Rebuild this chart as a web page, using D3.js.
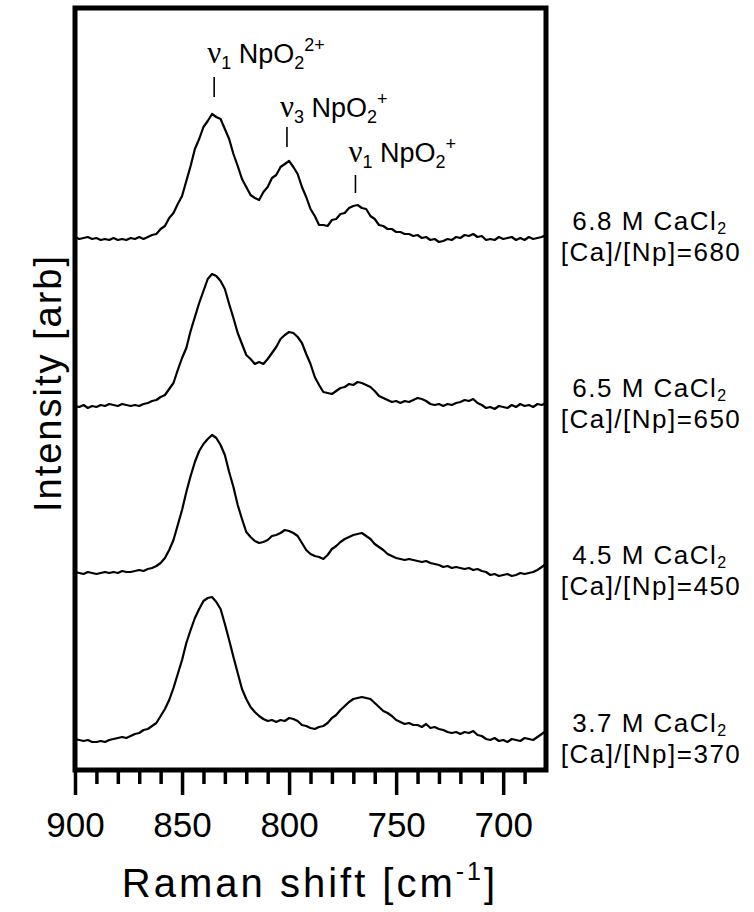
<!DOCTYPE html>
<html><head><meta charset="utf-8">
<script src="https://cdn.jsdelivr.net/npm/d3@7/dist/d3.min.js"></script>
<style>
body{margin:0;background:#fff;}
svg{display:block;font-family:"Liberation Sans",Arial,sans-serif;}
</style></head>
<body><svg id="chart" width="754" height="912"></svg>
<script>
// Raman shift grid (cm-1)
const shift = [
 900,898,896,894,892,890,888,886,884,882,
 880,878,876,874,872,870,868,866,864,862,
 860,858,856,854,852,850,848,846,844,842,
 840,838,836,834,832,830,828,826,824,822,
 820,818,816,814,812,810,808,806,804,802,
 800,798,796,794,792,790,788,786,784,782,
 780,778,776,774,772,770,768,766,764,762,
 760,758,756,754,752,750,748,746,744,742,
 740,738,736,734,732,730,728,726,724,722,
 720,718,716,714,712,710,708,706,704,702,
 700,698,696,694,692,690,688,686,684,682,
 680];

// Intensities (arb), baseline-subtracted
const s68 = [
 1,-1,0,1,-1,0,-2,-1,-2,0,
 -2,-1,-2,0,-1,1,-1,1,3,4,
 9,12,20,25,34,42,57,72,89,99,
 111,117,124,121,119,109,99,84,72,59,
 51,43,40,38,46,51,60,63,71,74,
 77,71,64,51,41,29,22,13,13,12,
 18,19,24,25,30,32,33,30,29,22,
 19,13,12,9,9,6,6,4,4,2,
 3,0,1,-2,-1,-4,-3,-1,-2,1,
 0,3,2,4,1,2,-2,-1,-2,1,
 -1,0,1,-2,0,-2,1,-1,0,1,
 3];
const s65 = [
 -1,-2,0,-3,-1,-2,0,-1,1,0,
 -1,1,0,-1,0,-1,1,2,4,5,
 8,10,16,22,35,47,57,74,88,102,
 114,126,131,129,124,116,101,87,72,61,
 50,46,41,43,41,46,52,58,66,70,
 73,72,68,62,51,41,28,20,13,12,
 11,14,17,18,21,20,23,22,20,18,
 14,9,7,5,3,4,2,4,3,5,
 7,6,4,1,0,1,-1,1,0,2,
 3,5,4,6,2,0,-3,-2,-4,-1,
 -2,-3,0,-2,1,-1,0,-2,1,0,
 2];
const s45 = [
 0,-1,-2,0,-1,-2,-1,0,-1,0,
 -1,1,0,0,1,2,1,3,4,6,
 9,14,22,32,47,62,80,96,110,121,
 128,133,137,134,127,117,100,85,67,53,
 40,35,31,29,30,32,36,37,39,42,
 41,39,36,29,22,18,16,15,13,17,
 23,26,30,33,35,37,38,39,36,33,
 28,25,22,18,16,14,13,12,13,12,
 11,10,11,9,8,7,5,6,4,5,
 4,3,4,2,3,1,0,-3,-2,-4,
 -3,-2,-4,-3,-1,-2,-1,0,2,5,
 8];
const s37 = [
 1,0,-1,0,-2,-2,-1,-2,0,1,
 2,3,2,4,6,7,10,11,14,17,
 24,31,40,52,66,80,97,110,122,131,
 139,142,143,138,131,116,100,83,67,51,
 41,33,28,24,21,19,20,18,20,19,
 22,21,19,15,14,12,11,13,14,17,
 22,25,30,34,38,41,42,43,42,41,
 37,33,29,27,24,20,18,16,17,15,
 15,13,16,12,13,11,10,8,7,8,
 6,8,7,9,5,4,1,0,2,-1,
 0,-2,1,0,-1,2,1,0,3,6,
 9];

const seriesData = [s68, s65, s45, s37];
const concentrations = ["6.8", "6.5", "4.5", "3.7"];
const ratios = ["680", "650", "450", "370"];
const offsets = [532, 365, 198, 30];

const xTicks = [900, 850, 800, 750, 700];
const minorTicks = [890,880,870,860,840,830,820,810,790,780,770,760,740,730,720,710,690];

const peakShifts = [835, 801, 769];
const peakMode = ["1", "3", "1"];
const peakCharge = ["2+", "+", "+"];

// ---------- drawing ----------
const svg = d3.select("#chart");
const L = 75, R = 546, T = 8, B = 770;
const x = d3.scaleLinear().domain([900, 680]).range([L, R]);
const y = d3.scaleLinear().domain([0, 762]).range([B, T]);

svg.append("defs").append("clipPath").attr("id", "clip")
  .append("rect").attr("x", L).attr("y", T).attr("width", R - L).attr("height", B - T);

const g = svg.append("g").attr("clip-path", "url(#clip)");
seriesData.forEach((s, k) => {
  const line = d3.line()
    .x((d, i) => x(shift[i]))
    .y(d => y(d + offsets[k]));
  g.append("path").datum(s)
    .attr("d", line)
    .attr("fill", "none")
    .attr("stroke", "#000")
    .attr("stroke-width", 2.2)
    .attr("stroke-linejoin", "round");
});

// minor ticks
const minorAxis = d3.axisBottom(x).tickValues(minorTicks).tickSize(14).tickFormat("");
const gm = svg.append("g").attr("transform", `translate(0,${B})`).call(minorAxis);
gm.select(".domain").remove();
gm.selectAll("line").attr("stroke-width", 3.5);

// major ticks
const majorAxis = d3.axisBottom(x).tickValues(xTicks).tickSize(25).tickPadding(17).tickFormat(d3.format("d"));
const gM = svg.append("g").attr("transform", `translate(0,${B})`).call(majorAxis);
gM.select(".domain").remove();
gM.selectAll("line").attr("stroke-width", 3.5);
gM.selectAll("text").attr("font-size", 35).attr("font-family", "'Liberation Sans', Arial, sans-serif").attr("fill", "#000");

// frame
svg.append("rect").attr("x", L).attr("y", T).attr("width", R - L).attr("height", B - T)
  .attr("fill", "none").attr("stroke", "#000").attr("stroke-width", 5);

// x title
const xt = svg.append("text").attr("x", 310).attr("y", 897).attr("text-anchor", "middle")
  .attr("font-size", 40).attr("letter-spacing", 3);
xt.append("tspan").text("Raman shift [cm");
xt.append("tspan").attr("font-size", 25).attr("dy", -17).text("-1");
xt.append("tspan").attr("dy", 17).text("]");

// y title
svg.append("text").attr("transform", "translate(61,383) rotate(-90)")
  .attr("text-anchor", "middle").attr("font-size", 38).attr("letter-spacing", 2)
  .text("Intensity [arb]");

// peak annotations
const annBase = [63, 117, 162];
const annTickTop = [77, 127, 175];
const annTickBot = [97, 147, 193];
peakShifts.forEach((p, i) => {
  const px = x(p);
  svg.append("line").attr("x1", px).attr("x2", px)
    .attr("y1", annTickTop[i]).attr("y2", annTickBot[i])
    .attr("stroke", "#000").attr("stroke-width", 1.6);
  const t = svg.append("text").attr("x", px - 7).attr("y", annBase[i]).attr("font-size", 27);
  t.append("tspan").attr("font-family", "'Liberation Serif','Times New Roman',serif").attr("font-size", 31).text("ν");
  t.append("tspan").attr("font-size", 18).attr("dy", 6).text(peakMode[i]);
  t.append("tspan").attr("dy", -6).text(" NpO");
  t.append("tspan").attr("font-size", 18).attr("dy", 6).text("2");
  t.append("tspan").attr("font-size", 18).attr("dy", -18).text(peakCharge[i]);
});

// series labels
seriesData.forEach((s, k) => {
  const by = y(offsets[k]);
  const t1 = svg.append("text").attr("x", 650).attr("y", by - 8)
    .attr("text-anchor", "middle").attr("font-size", 26).attr("letter-spacing", 1.5);
  t1.append("tspan").text(concentrations[k] + " M CaCl");
  t1.append("tspan").attr("font-size", 16).attr("dy", 4).text("2");
  svg.append("text").attr("x", 651).attr("y", by + 23)
    .attr("text-anchor", "middle").attr("font-size", 26).attr("letter-spacing", 1.5)
    .text("[Ca]/[Np]=" + ratios[k]);
});
</script>
</body></html>
